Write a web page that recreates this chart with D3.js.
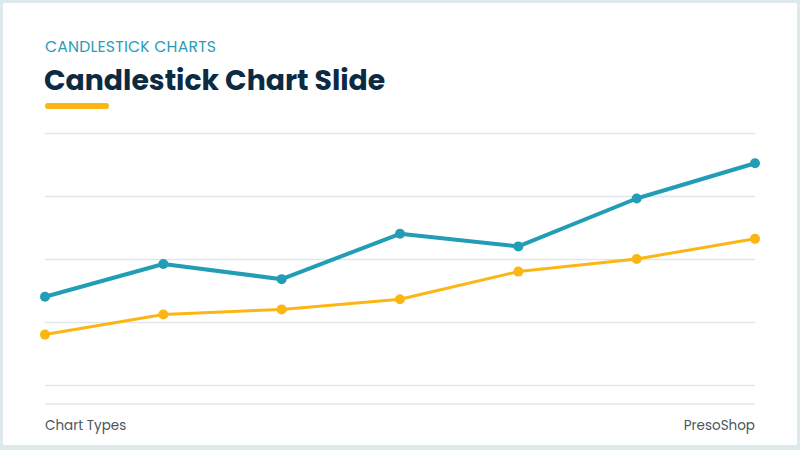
<!DOCTYPE html>
<html lang="en">
  <head>
    <meta charset="UTF-8" />
    <title>Candlestick Chart Slide</title>
    <style>
      html, body { margin: 0; padding: 0; background: #ffffff; }
      svg { display: block; }
      text { font-family: "Poppins", "Open Sans", "Noto Sans", sans-serif; }
    </style>
  </head>
  <body>
    <script src="https://cdn.jsdelivr.net/npm/d3@7"></script>
    <script>
    // chart data
    var categories = ["P1", "P2", "P3", "P4", "P5", "P6", "P7"];
    var tealValues = [35, 48, 42, 60, 55, 74, 88];
    var yellowValues = [20, 28, 30, 34, 45, 50, 58];
    var gridTicks = [0, 25, 50, 75, 100];

    var width = 800;
    var height = 450;

    var margin = {
      top: 133,
      right: 45,
      bottom: 65,
      left: 45
    };

    var teal = "#229db6";
    var yellow = "#fbb614";

    var svg = d3.select("body").append("svg")
      .attr("width", width)
      .attr("height", height);

    // slide frame
    svg.append("rect")
      .attr("x", 1.5)
      .attr("y", 1.5)
      .attr("width", width - 3)
      .attr("height", height - 4)
      .style("fill", "#ffffff")
      .style("stroke", "#dde9ec")
      .style("stroke-width", 3);
    svg.append("rect")
      .attr("x", 0)
      .attr("y", height - 5)
      .attr("width", width)
      .attr("height", 5)
      .style("fill", "#dde9ec");

    // header
    svg.append("text")
      .attr("x", 45)
      .attr("y", 52)
      .style("font-size", "15.7px")
      .style("fill", "#2a9db5")
      .style("letter-spacing", "0.2px")
      .text("CANDLESTICK CHARTS");

    svg.append("text")
      .attr("x", 44)
      .attr("y", 90)
      .style("font-size", "28.3px")
      .style("font-weight", "bold")
      .style("fill", "#0c2b43")
      .text("Candlestick Chart Slide");

    svg.append("line")
      .attr("x1", 48)
      .attr("x2", 106)
      .attr("y1", 106)
      .attr("y2", 106)
      .style("stroke", yellow)
      .style("stroke-width", 6)
      .style("stroke-linecap", "round");

    var xScale = d3.scalePoint()
      .domain(categories)
      .range([margin.left, width - margin.right]);

    // 0 sits on the lowest gridline, 100 on the top one
    var yScale = d3.scaleLinear()
      .domain([0, 100])
      .range([385, margin.top]);

    // gridlines through the axis generator
    var yAxis = d3.axisLeft(yScale)
      .tickValues(gridTicks)
      .tickSize(-(width - margin.left - margin.right))
      .tickFormat("");

    svg.append("g")
      .attr("class", "grid")
      .attr("transform", "translate(" + margin.left + ",0)")
      .call(yAxis)
      .call(function(g) { g.select(".domain").remove(); })
      .selectAll("line")
      .style("stroke", "#dfe7eb")
      .style("stroke-width", 1.5);

    // footer separator
    svg.append("line")
      .attr("x1", margin.left)
      .attr("x2", width - margin.right)
      .attr("y1", 404)
      .attr("y2", 404)
      .style("stroke", "#dfe7eb")
      .style("stroke-width", 1.5);

    function drawSeries(values, color, lineW) {
      var pts = values.map(function(v, i) {
        return { c: categories[i], v: v };
      });
      var line = d3.line()
        .x(function(d) { return xScale(d.c); })
        .y(function(d) { return yScale(d.v); });

      svg.append("path")
        .datum(pts)
        .attr("d", line)
        .style("fill", "none")
        .style("stroke", color)
        .style("stroke-width", lineW)
        .style("stroke-linejoin", "round");

      svg.append("g").selectAll("circle")
        .data(pts)
        .enter()
        .append("circle")
        .attr("cx", function(d) { return xScale(d.c); })
        .attr("cy", function(d) { return yScale(d.v); })
        .attr("r", 5)
        .style("fill", color);
    }

    drawSeries(yellowValues, yellow, 3);
    drawSeries(tealValues, teal, 4);

    // footer
    svg.append("text")
      .attr("x", 45)
      .attr("y", 430)
      .style("font-size", "13.5px")
      .style("fill", "#4a5661")
      .text("Chart Types");

    svg.append("text")
      .attr("x", 755)
      .attr("y", 430)
      .attr("text-anchor", "end")
      .style("font-size", "13.5px")
      .style("fill", "#4a5661")
      .text("PresoShop");
    </script>
  </body>
</html>
